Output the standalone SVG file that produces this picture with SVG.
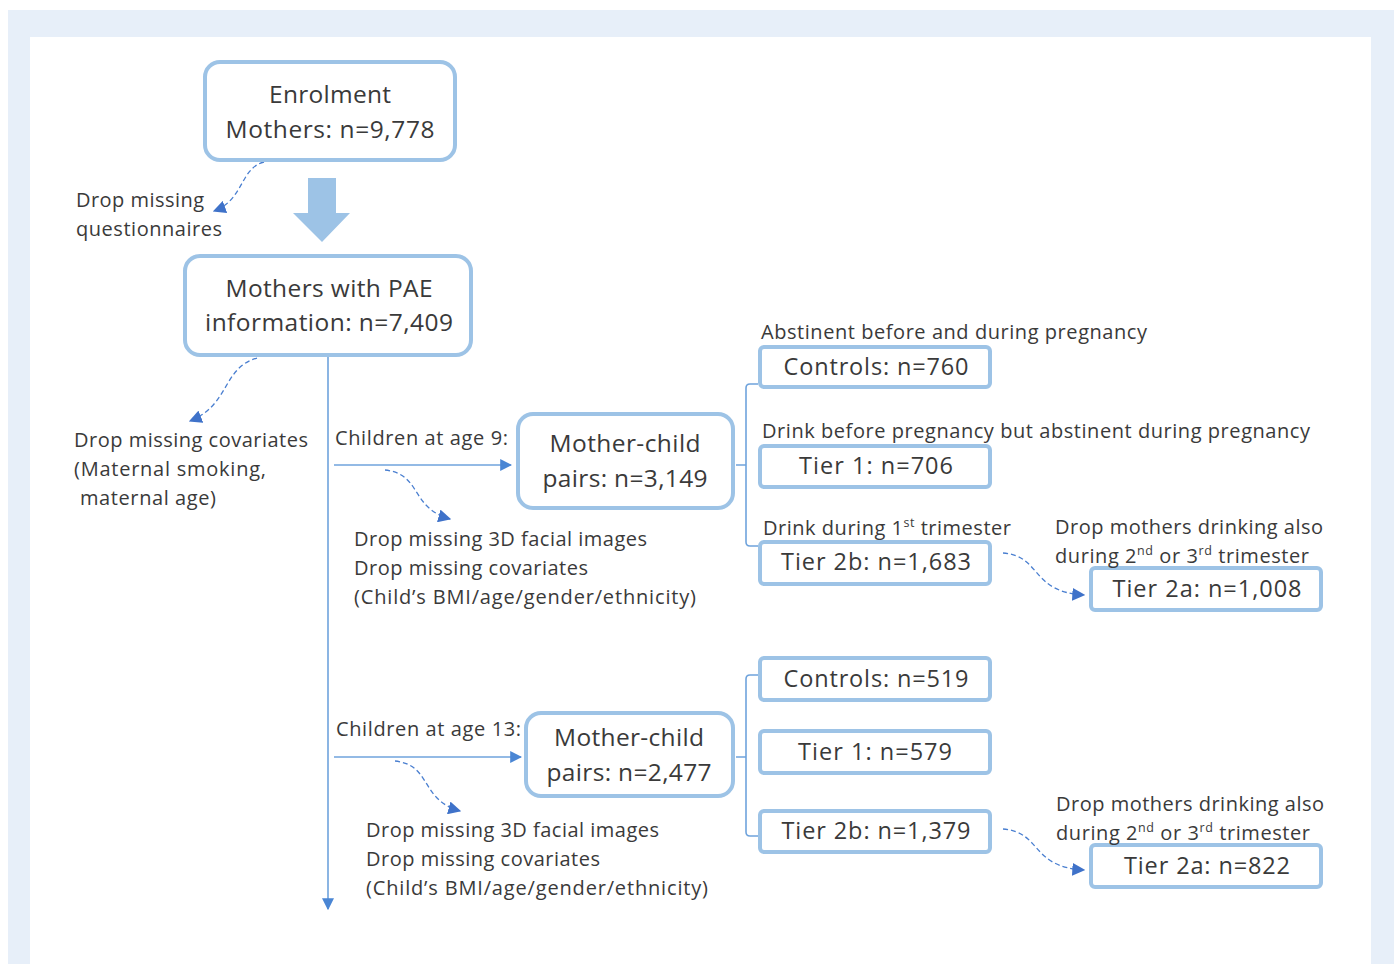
<svg xmlns="http://www.w3.org/2000/svg" width="1394" height="964" viewBox="0 0 1394 964">
<defs>
<style>
.box{fill:#fff;stroke:#9dc3e6;stroke-width:4}
.t{font-family:"Open Sans","Noto Sans","Liberation Sans",sans-serif;fill:#3a3a3a}
.big{font-size:24.5px;text-anchor:middle}
.tier{font-size:23.5px;text-anchor:middle}
.lab{font-size:20px}
.sup{font-size:12.5px}
.line{fill:none;stroke:#6fa3dc;stroke-width:1.6}
.dash{fill:none;stroke:#4a7fd0;stroke-width:1.3;stroke-dasharray:5 3}
</style>
<marker id="ah" viewBox="0 0 10 10" refX="9" refY="5" markerWidth="12" markerHeight="12" markerUnits="userSpaceOnUse" orient="auto">
<path d="M0,0 L10,5 L0,10 z" fill="#4a86d4"/>
</marker>
<marker id="ahd" viewBox="0 0 10 10" refX="9" refY="5" markerWidth="13" markerHeight="13" markerUnits="userSpaceOnUse" orient="auto">
<path d="M0,0 L10,5 L0,10 z" fill="#3f72c9"/>
</marker>
</defs>
<rect x="8" y="10" width="1386" height="954" fill="#e7eff9"/>
<rect x="30" y="37" width="1341" height="927" fill="#ffffff"/>

<g id="connectors">
<path d="M308,178 H336 V213 H350 L322,242 L293,213 H308 Z" fill="#9dc3e6"/>
<path class="line" d="M328,356 V909" marker-end="url(#ah)"/>
<path class="line" d="M334,465 H511" marker-end="url(#ah)"/>
<path class="line" d="M334,757 H521" marker-end="url(#ah)"/>
<path class="line" d="M758,384 H750 Q746,384 746,388 V542 Q746,546 750,546 H758 M736,465 H746"/>
<path class="line" d="M758,675 H750 Q746,675 746,679 V832 Q746,836 750,836 H758 M736,757 H746"/>
<path class="dash" d="M264,162 C240,168 244,200 214,211" marker-end="url(#ahd)"/>
<path class="dash" d="M257,358 C222,368 230,405 190,421" marker-end="url(#ahd)"/>
<path class="dash" d="M385,470 C422,474 410,508 450,519" marker-end="url(#ahd)"/>
<path class="dash" d="M395,761 C432,765 420,800 460,811" marker-end="url(#ahd)"/>
<path class="dash" d="M1003,553 C1042,556 1030,592 1084,595" marker-end="url(#ahd)"/>
<path class="dash" d="M1003,829 C1042,832 1030,867 1084,870" marker-end="url(#ahd)"/>
</g>

<g id="enrolment">
<rect class="box" x="205" y="62" width="250" height="98" rx="15"/>
<text class="t big" x="330" y="103" textLength="122">Enrolment</text>
<text class="t big" x="330" y="138" textLength="209">Mothers: n=9,778</text>
</g>
<g id="pae">
<rect class="box" x="185" y="256" width="286" height="99" rx="15"/>
<text class="t big" x="329" y="297" textLength="207">Mothers with PAE</text>
<text class="t big" x="329" y="331" textLength="248">information: n=7,409</text>
</g>
<g id="pairs9">
<rect class="box" x="518" y="414" width="215" height="94" rx="15"/>
<text class="t big" x="625" y="452" textLength="151">Mother-child</text>
<text class="t big" x="625" y="487" textLength="165">pairs: n=3,149</text>
</g>
<g id="pairs13">
<rect class="box" x="526" y="713" width="207" height="83" rx="15"/>
<text class="t big" x="629" y="746" textLength="150">Mother-child</text>
<text class="t big" x="629" y="781" textLength="165">pairs: n=2,477</text>
</g>

<g id="controls9">
<rect class="box" x="760" y="347" width="230" height="40" rx="4"/>
<text class="t tier" x="876" y="375" textLength="185">Controls: n=760</text>
</g>
<g id="tier1-9">
<rect class="box" x="760" y="446" width="230" height="41" rx="4"/>
<text class="t tier" x="876" y="474" textLength="154">Tier 1: n=706</text>
</g>
<g id="tier2b-9">
<rect class="box" x="760" y="542" width="230" height="42" rx="4"/>
<text class="t tier" x="876" y="570" textLength="190">Tier 2b: n=1,683</text>
</g>
<g id="tier2a-9">
<rect class="box" x="1091" y="568" width="230" height="42" rx="4"/>
<text class="t tier" x="1207" y="597" textLength="189">Tier 2a: n=1,008</text>
</g>
<g id="controls13">
<rect class="box" x="760" y="658" width="230" height="42" rx="4"/>
<text class="t tier" x="876" y="687" textLength="185">Controls: n=519</text>
</g>
<g id="tier1-13">
<rect class="box" x="760" y="731" width="230" height="42" rx="4"/>
<text class="t tier" x="875" y="760" textLength="154">Tier 1: n=579</text>
</g>
<g id="tier2b-13">
<rect class="box" x="760" y="811" width="230" height="41" rx="4"/>
<text class="t tier" x="876" y="839" textLength="189">Tier 2b: n=1,379</text>
</g>
<g id="tier2a-13">
<rect class="box" x="1091" y="845" width="230" height="42" rx="4"/>
<text class="t tier" x="1207" y="874" textLength="166">Tier 2a: n=822</text>
</g>

<g id="labels">
<text class="t lab" x="76" y="207" textLength="128">Drop missing</text>
<text class="t lab" x="76" y="236" textLength="146">questionnaires</text>
<text class="t lab" x="74" y="447" textLength="234">Drop missing covariates</text>
<text class="t lab" x="74" y="476" textLength="192">(Maternal smoking,</text>
<text class="t lab" x="80" y="505" textLength="136">maternal age)</text>
<text class="t lab" x="335" y="445" textLength="173">Children at age 9:</text>
<text class="t lab" x="336" y="736" textLength="185">Children at age 13:</text>
<text class="t lab" x="354" y="546" textLength="293">Drop missing 3D facial images</text>
<text class="t lab" x="354" y="575" textLength="234">Drop missing covariates</text>
<text class="t lab" x="354" y="604" textLength="342">(Child’s BMI/age/gender/ethnicity)</text>
<text class="t lab" x="366" y="837" textLength="293">Drop missing 3D facial images</text>
<text class="t lab" x="366" y="866" textLength="234">Drop missing covariates</text>
<text class="t lab" x="366" y="895" textLength="342">(Child’s BMI/age/gender/ethnicity)</text>
<text class="t lab" x="761" y="339" textLength="386">Abstinent before and during pregnancy</text>
<text class="t lab" x="762" y="438" textLength="548">Drink before pregnancy but abstinent during pregnancy</text>
<text class="t lab" x="763" y="535" textLength="248">Drink during 1<tspan class="sup" dy="-8">st</tspan><tspan dy="8"> trimester</tspan></text>
<text class="t lab" x="1055" y="534" textLength="268">Drop mothers drinking also</text>
<text class="t lab" x="1055" y="563" textLength="254">during 2<tspan class="sup" dy="-8">nd</tspan><tspan dy="8"> or 3</tspan><tspan class="sup" dy="-8">rd</tspan><tspan dy="8"> trimester</tspan></text>
<text class="t lab" x="1056" y="811" textLength="268">Drop mothers drinking also</text>
<text class="t lab" x="1056" y="840" textLength="254">during 2<tspan class="sup" dy="-8">nd</tspan><tspan dy="8"> or 3</tspan><tspan class="sup" dy="-8">rd</tspan><tspan dy="8"> trimester</tspan></text>
</g>
</svg>
